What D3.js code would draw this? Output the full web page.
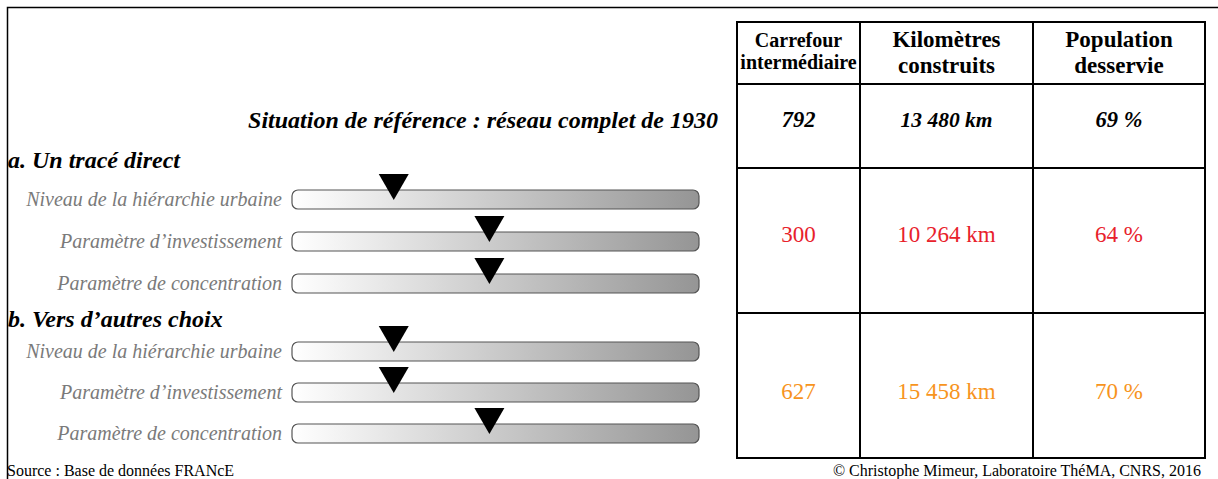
<!DOCTYPE html>
<html><head><meta charset="utf-8">
<script src="https://cdn.jsdelivr.net/npm/d3@7"></script>
<style>body{margin:0;background:#fff}svg{display:block}text{font-family:"Liberation Serif","Times New Roman",serif}</style>
</head><body><svg id="c" width="1218" height="479"></svg>
<script>
// ---- data ----
const sections = ["a. Un tracé direct", "b. Vers d’autres choix"];
const paramLabels = ["Niveau de la hiérarchie urbaine", "Paramètre d’investissement", "Paramètre de concentration"];
const valuesA = [0.25, 0.485, 0.485];
const valuesB = [0.25, 0.25, 0.485];
const headers = [["Carrefour", "intermédiaire"], ["Kilomètres", "construits"], ["Population", "desservie"]];
const refTitle = "Situation de référence : réseau complet de 1930";
const refRow = ["792", "13 480 km", "69 %"];
const rowA = ["300", "10 264 km", "64 %"];
const rowB = ["627", "15 458 km", "70 %"];
const source = "Source : Base de données FRANcE";
const credit = "© Christophe Mimeur, Laboratoire ThéMA, CNRS, 2016";

const svg = d3.select("#c");
// frame
svg.append("path").attr("d","M7.5,479 V7.5 H1218").attr("fill","none").attr("stroke","#000").attr("stroke-width",1.5);

// gradient
const defs = svg.append("defs");
const g = defs.append("linearGradient").attr("id","grad").attr("x1","0%").attr("x2","100%");
g.append("stop").attr("offset","0%").attr("stop-color","#ffffff");
g.append("stop").attr("offset","100%").attr("stop-color","#959595");

const x = d3.scaleLinear().domain([0,1]).range([292, 699]);

function drawSliders(vals, tops){
  vals.forEach((v,i)=>{
    const y0 = tops[i];
    svg.append("rect").attr("x",x(0)).attr("y",y0).attr("width",x(1)-x(0)).attr("height",19)
      .attr("rx",6).attr("fill","url(#grad)").attr("stroke","#555").attr("stroke-width",1.2);
    svg.append("text").attr("x",282).attr("y",y0+16).attr("text-anchor","end")
      .attr("font-style","italic").attr("font-size",20).attr("fill","#7a7a7a").text(paramLabels[i]);
    const cx = x(v);
    svg.append("path").attr("d",`M${cx-15},${y0-16} L${cx+15},${y0-16} L${cx},${y0+10} Z`).attr("fill","#000");
  });
}

// section titles
svg.append("text").attr("x",718).attr("y",128).attr("text-anchor","end").attr("font-weight","bold")
  .attr("font-style","italic").attr("font-size",24).text(refTitle);
svg.append("text").attr("x",8).attr("y",168).attr("font-weight","bold").attr("font-style","italic")
  .attr("font-size",24).text(sections[0]);
svg.append("text").attr("x",8).attr("y",327).attr("font-weight","bold").attr("font-style","italic")
  .attr("font-size",24).text(sections[1]);

drawSliders(valuesA, [190,232,274]);
drawSliders(valuesB, [342,383,424]);

// table
const colX = [737, 860, 1033, 1205];
const rowY = [22, 84, 168, 313, 458];
const tb = svg.append("g");
tb.append("rect").attr("x",colX[0]).attr("y",rowY[0]).attr("width",colX[3]-colX[0]).attr("height",rowY[4]-rowY[0])
  .attr("fill","none").attr("stroke","#000").attr("stroke-width",2);
[colX[1],colX[2]].forEach(cx=>tb.append("line").attr("x1",cx).attr("x2",cx).attr("y1",rowY[0]).attr("y2",rowY[4]).attr("stroke","#000").attr("stroke-width",2));
[rowY[1],rowY[2],rowY[3]].forEach(ry=>tb.append("line").attr("x1",colX[0]).attr("x2",colX[3]).attr("y1",ry).attr("y2",ry).attr("stroke","#000").attr("stroke-width",2));
const mid = i => (colX[i]+colX[i+1])/2;
headers.forEach((h,i)=>{
  const fs = i===0?20:23;
  const t = tb.append("text").attr("text-anchor","middle").attr("font-weight","bold").attr("font-size",fs);
  t.append("tspan").attr("x",mid(i)).attr("y",47).text(h[0]);
  t.append("tspan").attr("x",mid(i)).attr("y",i===0?69:73).text(h[1]);
});
refRow.forEach((v,i)=>tb.append("text").attr("x",mid(i)).attr("y",127).attr("text-anchor","middle")
  .attr("font-weight","bold").attr("font-style","italic").attr("font-size",i===1?21.5:22.5).text(v));
rowA.forEach((v,i)=>tb.append("text").attr("x",mid(i)).attr("y",242).attr("text-anchor","middle")
  .attr("font-size",23).attr("fill","#e8212b").text(v));
rowB.forEach((v,i)=>tb.append("text").attr("x",mid(i)).attr("y",399).attr("text-anchor","middle")
  .attr("font-size",23).attr("fill","#f7941d").text(v));

svg.append("text").attr("x",7).attr("y",476).attr("font-size",16).text(source);
svg.append("text").attr("x",1201).attr("y",476).attr("text-anchor","end").attr("font-size",16).text(credit);
</script></body></html>
